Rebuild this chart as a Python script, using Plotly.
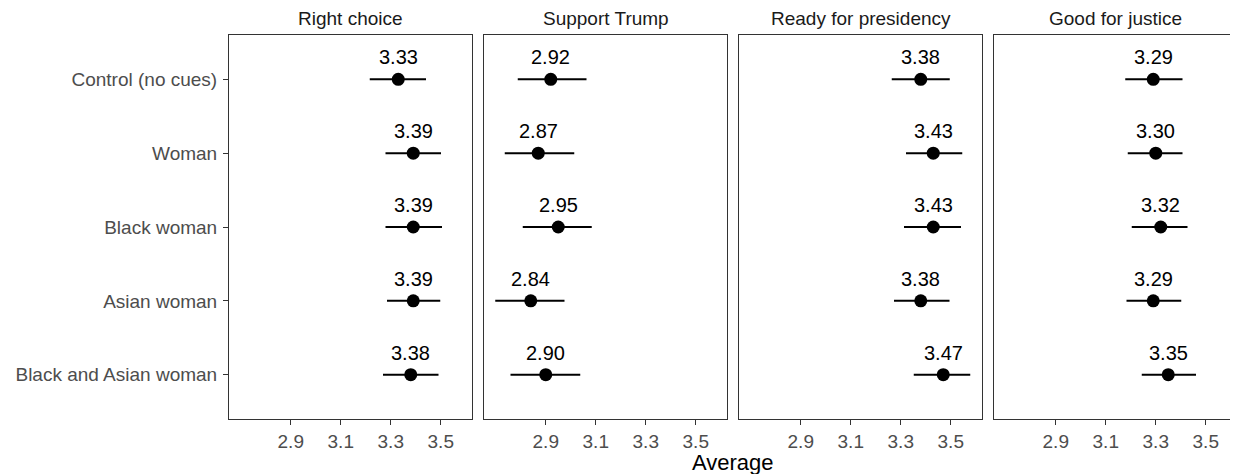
import plotly.graph_objects as go

categories = ["Control (no cues)", "Woman", "Black woman", "Asian woman", "Black and Asian woman"]
outcomes = ["Right choice", "Support Trump", "Ready for presidency", "Good for justice"]

right_mean = [3.33, 3.39, 3.39, 3.39, 3.38]
right_lo = [3.216, 3.279, 3.279, 3.285, 3.269]
right_hi = [3.441, 3.501, 3.505, 3.498, 3.491]

trump_mean = [2.92, 2.87, 2.95, 2.84, 2.90]
trump_lo = [2.788, 2.736, 2.808, 2.698, 2.759]
trump_hi = [3.063, 3.014, 3.084, 2.975, 3.038]

ready_mean = [3.38, 3.43, 3.43, 3.38, 3.47]
ready_lo = [3.264, 3.321, 3.313, 3.273, 3.352]
ready_hi = [3.496, 3.546, 3.541, 3.495, 3.578]

justice_mean = [3.29, 3.30, 3.32, 3.29, 3.35]
justice_lo = [3.178, 3.188, 3.204, 3.183, 3.244]
justice_hi = [3.407, 3.407, 3.427, 3.402, 3.461]

x_ticks = [2.9, 3.1, 3.3, 3.5]
x_tick_labels = ["2.9", "3.1", "3.3", "3.5"]

panels = [
    (right_mean, right_lo, right_hi),
    (trump_mean, trump_lo, trump_hi),
    (ready_mean, ready_lo, ready_hi),
    (justice_mean, justice_lo, justice_hi),
]

FONT = "Liberation Sans, Arial, Helvetica, sans-serif"
# page body has an 8px margin, so the figure is drawn 8px smaller
W, H = 1230, 466
ML, MR, MT, MB = 221, 1, 27, 55
plot_w = W - ML - MR
panel_w = 243
gap = (plot_w - 4 * panel_w) / 3

fig = go.Figure()
annotations = []
layout_axes = {}

for i, (mean, lo, hi) in enumerate(panels):
    n = i + 1
    xa = "x" if n == 1 else f"x{n}"
    ya = "y" if n == 1 else f"y{n}"
    plus = [h - m for h, m in zip(hi, mean)]
    minus = [m - l for m, l in zip(mean, lo)]
    fig.add_trace(go.Scatter(
        x=mean, y=categories, xaxis=xa, yaxis=ya, mode="markers",
        marker=dict(color="black", size=13),
        error_x=dict(type="data", array=plus, arrayminus=minus, width=0,
                     thickness=2, color="black", symmetric=False),
        showlegend=False, hoverinfo="skip",
    ))
    for m, c in zip(mean, categories):
        annotations.append(dict(
            x=m, y=c, xref=xa, yref=ya, text=f"{m:.2f}", showarrow=False,
            xanchor="center", yshift=22,
            font=dict(family=FONT, size=20, color="black"),
        ))
    x0 = (i * (panel_w + gap)) / plot_w
    x1 = (i * (panel_w + gap) + panel_w) / plot_w
    layout_axes["xaxis" if n == 1 else f"xaxis{n}"] = dict(
        domain=[x0, x1], anchor=ya, range=[2.653, 3.625],
        tickvals=x_ticks, ticktext=x_tick_labels,
        ticks="outside", ticklen=5, tickwidth=1, tickcolor="#333333",
        showline=True, mirror=True, linecolor="#333333", linewidth=1,
        showgrid=False, zeroline=False,
        tickfont=dict(family=FONT, size=19, color="#4D4D4D"),
    )
    yax = dict(
        domain=[0, 1], anchor=xa, type="category",
        categoryorder="array", categoryarray=categories,
        range=[4.6, -0.6],
        showline=True, mirror=True, linecolor="#333333", linewidth=1,
        showgrid=False, zeroline=False,
    )
    if n == 1:
        yax.update(ticks="outside", ticklen=5, tickwidth=1, tickcolor="#333333",
                   ticklabelstandoff=2,
                   tickfont=dict(family=FONT, size=19, color="#4D4D4D"))
    else:
        yax.update(showticklabels=False, ticks="", matches="y")
    layout_axes["yaxis" if n == 1 else f"yaxis{n}"] = yax
    annotations.append(dict(
        x=(x0 + x1) / 2, y=1, xref="paper", yref="paper",
        xanchor="center", yanchor="middle",
        yshift=17, text=outcomes[i], showarrow=False,
        font=dict(family=FONT, size=19, color="#1A1A1A"),
    ))

annotations.append(dict(
    x=0.5, y=0, xref="paper", yref="paper", xanchor="center", yanchor="middle",
    yshift=-43, text="Average", showarrow=False,
    font=dict(family=FONT, size=22, color="black"),
))

fig.update_layout(
    width=W, height=H, margin=dict(l=ML, r=MR, t=MT, b=MB),
    paper_bgcolor="white", plot_bgcolor="white",
    annotations=annotations, **layout_axes,
)

fig.write_html("out.html")
